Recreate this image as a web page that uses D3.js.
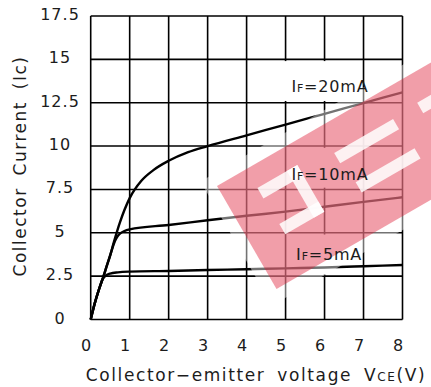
<!DOCTYPE html>
<html>
<head>
	<meta charset="UTF-8">
	<title>collector current vs collector-emitter voltage</title>
	<style>
html, body {
	margin:0;padding:0;background:#fff;
}
text {
	font-family: 'DejaVu Sans', sans-serif;
	fill: #1c1c1c;
}
	</style>
	<script src="https://cdnjs.cloudflare.com/ajax/libs/d3/7.8.5/d3.min.js"></script>
</head>
<body>
<script>
// values
const xTicks = [0, 1, 2, 3, 4, 5, 6, 7, 8];
const yTicks = [0, 2.5, 5, 7.5, 10, 12.5, 15, 17.5];

const vce20 = [0, 0.1, 0.2, 0.3, 0.4, 0.5, 0.6, 0.75, 1, 1.3, 1.6, 2, 2.5, 3, 4, 5, 6, 7, 8];
const ic20  = [0, 0.9, 1.65, 2.3, 3.0, 3.7, 4.5, 5.6, 7.0, 8.0, 8.6, 9.15, 9.65, 10.0, 10.62, 11.24, 11.86, 12.48, 13.1];

const vce10 = [0, 0.1, 0.2, 0.3, 0.4, 0.5, 0.6, 0.75, 1, 2, 3, 4, 5, 6, 7, 8];
const ic10  = [0, 0.9, 1.65, 2.3, 3.0, 3.7, 4.4, 4.95, 5.2, 5.45, 5.72, 5.98, 6.22, 6.5, 6.78, 7.05];

const vce5 = [0, 0.1, 0.2, 0.3, 0.37, 0.5, 0.7, 1, 2, 3, 4, 5, 6, 7, 8];
const ic5  = [0, 0.9, 1.65, 2.3, 2.5, 2.65, 2.72, 2.76, 2.8, 2.85, 2.9, 2.95, 3.0, 3.07, 3.14];

const seriesNames = ['20mA', '10mA', '5mA'];

const zip = (xs, ys) => xs.map((v, i) => [v, ys[i]]);
const series = [zip(vce20, ic20), zip(vce10, ic10), zip(vce5, ic5)];

const W = 431, H = 387;
const plot = {left: 90.7, right: 402.5, top: 16, bottom: 319.5};

const svg = d3.select(document.body).append('svg').attr('width', W).attr('height', H);

const x = d3.scaleLinear().domain([0, 8]).range([plot.left, plot.right]);
const y = d3.scaleLinear().domain([0, 17.5]).range([plot.bottom, plot.top]);

// grid
const grid = svg.append('g').attr('stroke', '#000').attr('stroke-width', 1.6);
grid.selectAll('.vx').data(xTicks).enter().append('line')
	.attr('x1', d => x(d)).attr('x2', d => x(d))
	.attr('y1', plot.top).attr('y2', plot.bottom);
grid.selectAll('.hy').data(yTicks).enter().append('line')
	.attr('x1', plot.left).attr('x2', plot.right)
	.attr('y1', d => y(d)).attr('y2', d => y(d));

// white boxes behind the curve labels hide a few grid segments
const boxes = [[4.9, 6.85, 12.6, 14.9], [5.3, 6.85, 7.6, 9.9], [5.3, 6.85, 2.6, 4.9]];
svg.append('g').selectAll('rect').data(boxes).enter().append('rect')
	.attr('x', d => x(d[0])).attr('width', d => x(d[1]) - x(d[0]))
	.attr('y', d => y(d[3])).attr('height', d => y(d[2]) - y(d[3]))
	.attr('fill', '#fff');

// tick labels
svg.append('g').selectAll('text').data(xTicks).enter().append('text')
	.attr('x', d => x(d) - 4).attr('y', 351)
	.attr('text-anchor', 'middle')
	.attr('font-size', 16).attr('letter-spacing', 1)
	.text(d => d);
svg.append('g').selectAll('text').data(yTicks).enter().append('text')
	.attr('x', 60).attr('y', d => y(d) + 4)
	.attr('text-anchor', 'middle')
	.attr('font-size', 16).attr('letter-spacing', 1)
	.text(d => d);

// curves
const line = d3.line().x(d => x(d[0])).y(d => y(d[1])).curve(d3.curveMonotoneX);
svg.append('g').selectAll('path').data(series).enter().append('path')
	.attr('d', line)
	.attr('fill', 'none')
	.attr('stroke', '#000')
	.attr('stroke-width', 2.4)
	.attr('stroke-linejoin', 'round');

// axis titles
const xt = svg.append('text')
	.attr('x', 256).attr('y', 381)
	.attr('text-anchor', 'middle')
	.attr('font-size', 17).attr('letter-spacing', 1.6).attr('word-spacing', 5);
xt.append('tspan').text('Collector\u2212emitter voltage V');
xt.append('tspan').attr('font-size', 12).text('CE');
xt.append('tspan').text('(V)');

svg.append('text')
	.attr('transform', 'translate(26,166) rotate(-90)')
	.attr('text-anchor', 'middle')
	.attr('font-size', 17).attr('letter-spacing', 1.5).attr('word-spacing', 5)
	.text('Collector Current (Ic)');

// red stamp sitting over the chart
const stamp = svg.append('g').attr('transform', 'translate(217,186) rotate(-30)');
stamp.append('rect')
	.attr('x', -12).attr('y', -12).attr('width', 460).attr('height', 143)
	.attr('fill', '#fff').attr('opacity', 0.45);
stamp.append('rect')
	.attr('x', 0).attr('y', 0).attr('width', 440).attr('height', 119)
	.attr('fill', 'rgb(222,25,50)').attr('opacity', 0.42);
const bars = [[34, 22, 46, 12], [35, 64, 45, 12], [68, 22, 12, 54], [118, 30, 68, 12], [122, 66, 68, 12], [215, 28, 80, 12]];
stamp.selectAll('.bar').data(bars).enter().append('rect')
	.attr('x', d => d[0]).attr('y', d => d[1]).attr('width', d => d[2]).attr('height', d => d[3])
	.attr('fill', '#fff').attr('opacity', 0.85);

// curve labels
const labelPos = [[5.15, 13.1], [5.15, 8.05], [5.27, 3.42]];
const lbl = svg.append('g').selectAll('text').data(seriesNames).enter().append('text')
	.attr('x', (d, i) => x(labelPos[i][0]))
	.attr('y', (d, i) => y(labelPos[i][1]))
	.attr('font-size', 16).attr('letter-spacing', 0.8)
	.attr('fill', '#2a2a2a');
lbl.append('tspan').text('I');
lbl.append('tspan').attr('font-size', 11).text('F');
lbl.append('tspan').text(d => '=' + d);
</script>
</body>
</html>
